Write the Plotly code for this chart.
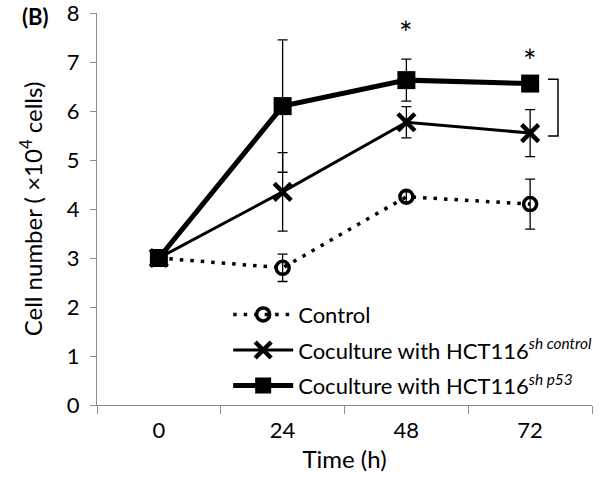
import plotly.graph_objects as go

times = ["0", "24", "48", "72"]
control = [3.0, 2.80, 4.25, 4.10]
control_err = [0.0, 0.28, 0.10, 0.51]
sh_control = [3.0, 4.35, 5.77, 5.55]
sh_control_err = [0.0, 0.80, 0.32, 0.48]
sh_p53 = [3.0, 6.10, 6.63, 6.56]
sh_p53_err = [0.0, 1.35, 0.43, 0.12]
y_ticks = [0, 1, 2, 3, 4, 5, 6, 7, 8]
star_positions = ["48", "72"]

FONT = "Lato"
err_style = dict(type="data", visible=True, color="black", thickness=1.3, width=5)

fig = go.Figure()
fig.add_trace(go.Scatter(
    x=times, y=control, name="Control", mode="lines+markers",
    line=dict(color="black", width=3.5, dash="3.5px,7px"),
    marker=dict(symbol="circle-open", size=13, color="black", line=dict(width=3.5)),
    error_y=dict(array=control_err, **err_style), legendgroup="a",
))
fig.add_trace(go.Scatter(
    x=times, y=sh_control, name="Coculture with HCT116<sup><i>sh control</i></sup>",
    mode="lines+markers",
    line=dict(color="black", width=3),
    marker=dict(symbol="x-thin", size=17, color="black", line=dict(width=4.5, color="black")),
    error_y=dict(array=sh_control_err, **err_style), legendgroup="b",
))
fig.add_trace(go.Scatter(
    x=times, y=sh_p53, name="Coculture with HCT116<sup><i>sh p53</i></sup>",
    mode="lines+markers",
    line=dict(color="black", width=5),
    marker=dict(symbol="square", size=18, color="black"),
    error_y=dict(array=sh_p53_err, **err_style), legendgroup="c",
))

# significance stars
star_y = [sh_p53[2] + sh_p53_err[2] + 0.55, sh_p53[3] + 0.48]
for xs, ys in zip(star_positions, star_y):
    fig.add_annotation(x=times.index(xs), y=ys, text="*", showarrow=False,
                       font=dict(family=FONT, size=32, color="black"), yanchor="middle")

# bracket between the two coculture series at 72 h
top = sh_p53[3] + 0.09
bot = sh_control[3] - 0.06
fig.add_shape(type="path", xref="x", yref="y",
              path=f"M 3.144,{top} L 3.225,{top} L 3.225,{bot} L 3.144,{bot}",
              line=dict(color="black", width=1.5))

fig.add_annotation(xref="paper", yref="paper", x=-0.125, y=0.99, xanchor="center",
                   yanchor="middle", text="<b>(B)</b>", showarrow=False,
                   font=dict(family=FONT, size=22, color="black"))

fig.update_layout(
    width=600, height=483,
    margin=dict(l=97, r=8, t=13, b=78, autoexpand=False),
    plot_bgcolor="white", paper_bgcolor="white",
    font=dict(family=FONT, size=22, color="black"),
    legend=dict(x=0.265, y=0.14, xanchor="left", yanchor="middle",
                bgcolor="rgba(0,0,0,0)", itemwidth=60, traceorder="grouped",
                tracegroupgap=4, font=dict(size=22)),
    xaxis=dict(type="category", range=[-0.5, 3.5], showgrid=False, automargin=False,
               showline=True, linecolor="#8c8c8c", linewidth=1,
               ticks="outside", tickson="boundaries", ticklen=8, tickcolor="#8c8c8c",
               ticklabelstandoff=6,
               title=dict(text="Time (h)", font=dict(size=24), standoff=8),
               tickfont=dict(size=22)),
    yaxis=dict(range=[0, 8], tickvals=y_ticks, showgrid=False, zeroline=False, automargin=False,
               showline=True, linecolor="#8c8c8c", linewidth=1,
               ticks="outside", ticklen=6, tickcolor="#8c8c8c",
               ticklabelstandoff=6, ticklabeloverflow="allow",
               title=dict(text="Cell number ( ×10<sup>4</sup> cells)", font=dict(size=24), standoff=17),
               tickfont=dict(size=22)),
)

fig.write_html("out.html")
